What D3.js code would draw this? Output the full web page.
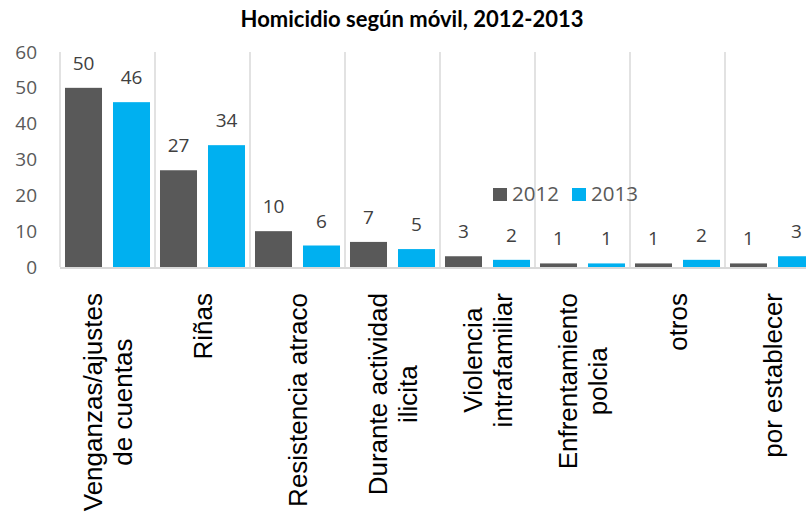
<!DOCTYPE html>
<html>
<head>
<meta charset="utf-8">
<script src="https://cdn.jsdelivr.net/npm/d3@7"></script>
<style>
  html, body { margin: 0; padding: 0; background: #fff; }
  svg { display: block; }
</style>
</head>
<body>
<svg id="chart" width="806" height="514"></svg>
<script>
const title = "Homicidio según móvil, 2012-2013";
const categories = [
  ["Venganzas/ajustes", "de cuentas"],
  ["Riñas"],
  ["Resistencia atraco"],
  ["Durante actividad", "ilicita"],
  ["Violencia", "intrafamiliar"],
  ["Enfrentamiento", "polcia"],
  ["otros"],
  ["por establecer"]
];
const seriesNames = ["2012", "2013"];
const values2012 = [50, 27, 10, 7, 3, 1, 1, 1];
const values2013 = [46, 34, 6, 5, 2, 1, 2, 3];
const yTicks = [0, 10, 20, 30, 40, 50, 60];
const colors = ["#595959", "#00B0F0"];

const svg = d3.select("#chart");
const plotL = 60, plotR = 820, plotT = 52, plotB = 267;
const keys = categories.map((c, i) => String(i));

const x = d3.scaleBand().domain(keys).range([plotL, plotR]).paddingInner(0).paddingOuter(0);
const xs = d3.scaleBand().domain(seriesNames).range([0, x.bandwidth()])
  .paddingInner(0.229).paddingOuter(0.104);
const y = d3.scaleLinear().domain([0, 60]).range([plotB, plotT]);

const numFont = "'Open Sans', sans-serif";

// Title
svg.append("text")
  .attr("x", 412).attr("y", 27)
  .attr("text-anchor", "middle")
  .attr("font-family", "Lato, 'Open Sans', sans-serif")
  .attr("font-weight", "bold")
  .attr("font-size", 22)
  .attr("fill", "#000")
  .text(title);

// Category separators (vertical gridlines)
const seps = keys.map(k => x(k)).concat([x(keys[keys.length - 1]) + x.bandwidth()]);
svg.append("g").selectAll("line").data(seps).join("line")
  .attr("x1", d => d).attr("x2", d => d)
  .attr("y1", plotT).attr("y2", plotB)
  .attr("stroke", "#D9D9D9").attr("stroke-width", 1.5);

// Y axis labels
const yAxis = d3.axisLeft(y).tickValues(yTicks).tickSize(0).tickPadding(0);
const yg = svg.append("g").attr("transform", "translate(37,0)").call(yAxis);
yg.select(".domain").remove();
yg.selectAll("text")
  .attr("font-family", numFont).attr("font-size", 19).attr("fill", "#595959");

// Bars
const data = keys.map((k, i) => ({ k, vals: [values2012[i], values2013[i]] }));
const groups = svg.append("g").selectAll("g").data(data).join("g")
  .attr("transform", d => `translate(${x(d.k)},0)`);
groups.selectAll("rect").data(d => d.vals.map((v, j) => ({ v, s: seriesNames[j], j })))
  .join("rect")
  .attr("x", d => xs(d.s)).attr("width", xs.bandwidth())
  .attr("y", d => y(d.v)).attr("height", d => y(0) - y(d.v))
  .attr("fill", d => colors[d.j]);
groups.selectAll("text.val").data(d => d.vals.map((v, j) => ({ v, s: seriesNames[j], j })))
  .join("text").attr("class", "val")
  .attr("x", d => xs(d.s) + xs.bandwidth() / 2)
  .attr("y", d => y(d.v) - 18)
  .attr("text-anchor", "middle")
  .attr("font-family", numFont).attr("font-size", 19).attr("fill", "#404040")
  .text(d => d.v);

// Baseline axis
svg.append("line")
  .attr("x1", plotL).attr("x2", plotR).attr("y1", y(0) + 1).attr("y2", y(0) + 1)
  .attr("stroke", "#D9D9D9").attr("stroke-width", 2);

// Category labels (rotated)
const catFont = "'Liberation Sans', Arial, sans-serif";
const lineH = 30;
data.forEach((d, i) => {
  const lines = categories[i];
  const cx = x(d.k) + x.bandwidth() / 2;
  const g = svg.append("g").attr("transform", `translate(${cx},293) rotate(-90)`);
  const texts = lines.map((ln, j) => g.append("text")
    .attr("font-family", catFont).attr("font-size", 26).attr("fill", "#000")
    .attr("text-anchor", "middle")
    .attr("y", 9.5 + (j - (lines.length - 1) / 2) * lineH)
    .text(ln));
  const L = d3.max(texts, t => t.node().getComputedTextLength());
  texts.forEach(t => t.attr("x", -L / 2));
});

// Legend
const legend = svg.append("g");
const legX = [493, 572];
seriesNames.forEach((s, j) => {
  legend.append("rect").attr("x", legX[j]).attr("y", 188).attr("width", 14).attr("height", 13)
    .attr("fill", colors[j]);
  legend.append("text").attr("x", legX[j] + 19).attr("y", 201)
    .attr("font-family", numFont).attr("font-size", 20.5).attr("fill", "#595959")
    .text(s);
});
</script>
</body>
</html>
